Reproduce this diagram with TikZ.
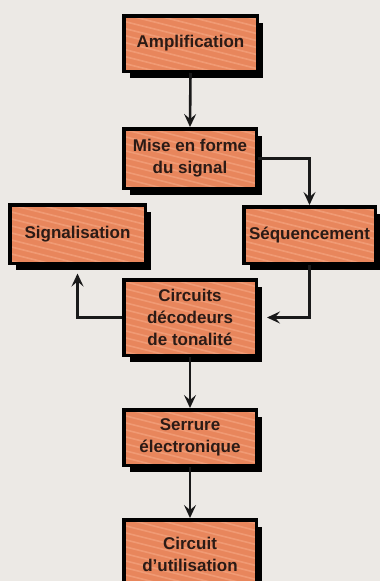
\documentclass[tikz,border=0pt]{standalone}
\usepackage{fontspec}
\setmainfont{Liberation Sans}
\usetikzlibrary{arrows.meta,shadows}
\definecolor{bg}{HTML}{ECE9E5}
\definecolor{boxfill}{HTML}{E8865C}
\definecolor{stripe}{HTML}{F09A74}
\definecolor{txt}{HTML}{2B1B16}
\begin{document}
\begin{tikzpicture}[x=1pt,y=-1pt,
  blk/.style={draw=black, line width=3.5pt, fill=boxfill, text=txt, align=center,
    inner sep=0pt, font=\bfseries\fontsize{17}{22}\selectfont,
    drop shadow={shadow xshift=6pt, shadow yshift=-7pt, opacity=1, fill=black},
    path picture={\foreach \i in {-12,...,12}
      \draw[stripe, line width=1.6pt] ([shift={(-90pt,\i*7pt)}]path picture bounding box.center) -- ++(180pt,-45pt);}},
  arr/.style={line width=2.6pt, draw=black!90, -{Stealth[length=13pt,width=12pt,inset=5pt]}}]
\fill[bg] (0,0) rectangle (380,581);
\useasboundingbox (0,0) rectangle (380,581);
\clip (0,0) rectangle (380,581);
\node[blk, minimum width=133.5pt, minimum height=55.5pt] (A) at (190.5,43.5) {Amplification};
\node[blk, minimum width=132.5pt, minimum height=59.5pt] (M) at (190,158.5) {Mise en forme\\du signal};
\node[blk, minimum width=135.5pt, minimum height=58.5pt] (Sig) at (77.5,234) {Signalisation};
\node[blk, minimum width=131.5pt, minimum height=56.5pt] (Seq) at (309.5,235) {Séquencement};
\node[blk, minimum width=132.5pt, minimum height=75.5pt] (C) at (190,317.5) {Circuits\\décodeurs\\de tonalité};
\node[blk, minimum width=132.5pt, minimum height=55.5pt] (S) at (190,437.5) {Serrure\\électronique};
\node[blk, minimum width=132.5pt, minimum height=69.5pt] (U) at (190,554.5) {Circuit\\d'utilisation};
\draw[arr] (A.south) -- (M.north);
\draw[arr] (M.east) -| (Seq.north);
\draw[arr] (Seq.south) |- ([xshift=9pt]C.east);
\draw[arr] (C.west) -| ([yshift=-8.5pt]Sig.south);
\draw[arr] (C.south) -- (S.north);
\draw[arr] (S.south) -- (U.north);
\end{tikzpicture}
\end{document}
